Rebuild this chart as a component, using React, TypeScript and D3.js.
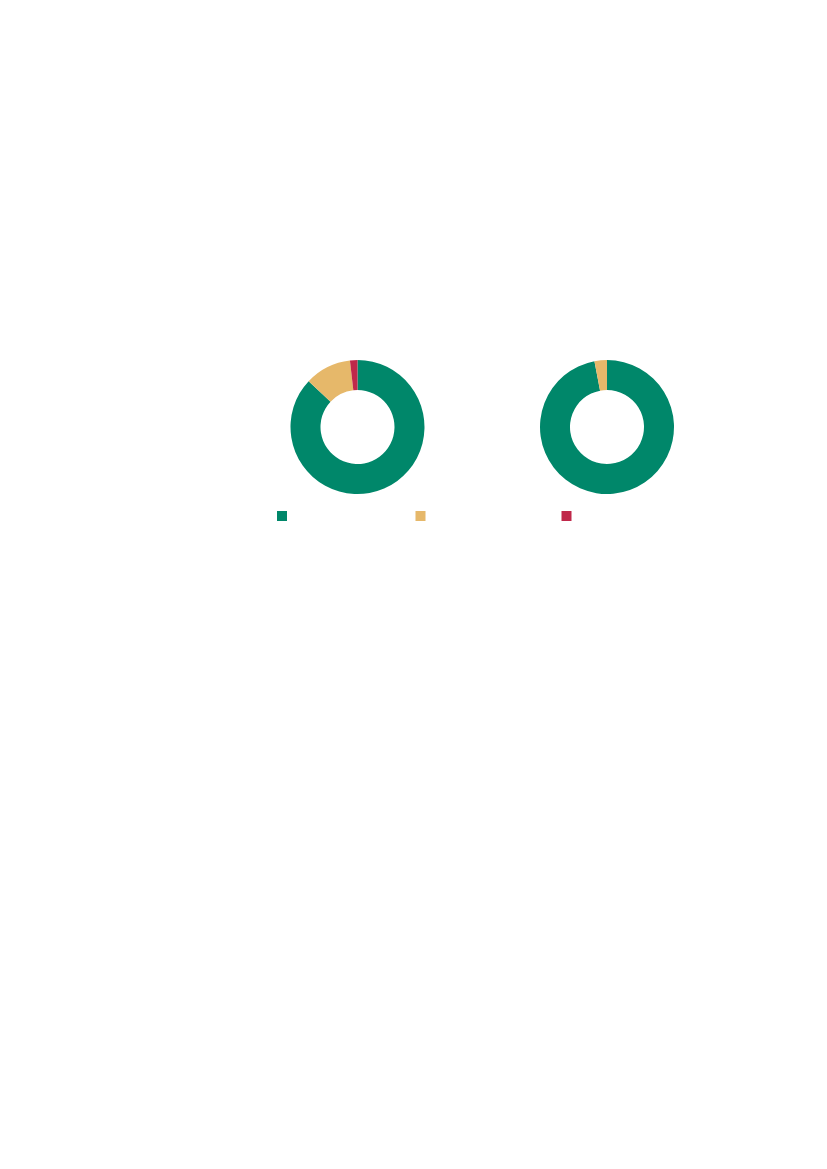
import React from 'react';
import * as d3 from 'd3';

const categories = ['A', 'B', 'C'];
const colors = ['#00876a', '#e6b86a', '#c0284a'];
const leftValues = [87, 11.2, 1.8];
const rightValues = [97, 3, 0];

const width = 827;
const height = 1169;
const outerR = 67;
const innerR = 37;
const cy = 427;
const centersX = [357.5, 607];

const Donut: React.FC<{ values: number[]; cx: number }> = ({ values, cx }) => {
  const pie = d3.pie<number>().sort(null).value(d => d)(values);
  const arc = d3.arc<d3.PieArcDatum<number>>().innerRadius(innerR).outerRadius(outerR);
  return (
    <g transform={`translate(${cx},${cy})`}>
      {pie.map((p, i) => (
        <path key={categories[i]} d={arc(p) || ''} fill={colors[i]} />
      ))}
    </g>
  );
};

export default function App() {
  // legend positions along a band scale
  const legendX = d3.scalePoint<string>().domain(categories).range([277, 561.5]);
  const legendXs = [277, 415.5, 561.5];
  return (
    <svg
      width={width}
      height={height}
      style={{ position: 'absolute', left: 0, top: 0, background: '#fff' }}
    >
      <Donut values={leftValues} cx={centersX[0]} />
      <Donut values={rightValues} cx={centersX[1]} />
      <g>
        {categories.map((c, i) => (
          <rect
            key={c}
            x={legendXs[i] ?? legendX(c)}
            y={511}
            width={10}
            height={10}
            fill={colors[i]}
          />
        ))}
      </g>
    </svg>
  );
}
